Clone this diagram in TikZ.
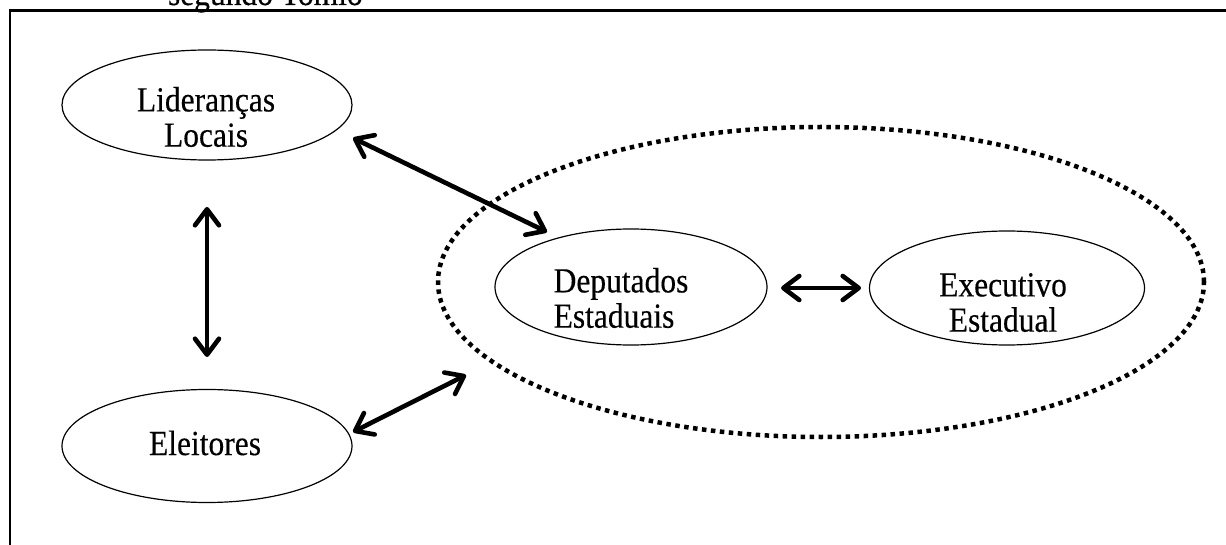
\documentclass[tikz,border=0pt]{standalone}
\usepackage{fontspec}
\setmainfont{Liberation Serif}
\newfontfamily\lblfont[FakeBold=0.3]{Liberation Serif}
\usetikzlibrary{arrows.meta,shapes.geometric}
\newcommand\lbltext[1]{\scalebox{1}[1.12]{\lblfont\fontsize{31.5}{31.5}\selectfont\begin{tabular}{@{}c@{}}#1\end{tabular}}}
\begin{document}
\begin{tikzpicture}[x=1pt,y=-1pt,
  oval/.style={draw, ellipse, line width=1.2pt, inner sep=0pt},
  group/.style={draw, ellipse, line width=4.5pt, dash pattern=on 4.5pt off 4.5pt, inner sep=0pt},
  txt/.style={inner sep=0pt, outer sep=0pt},
  arr/.style={line width=4.6pt, {Straight Barb[length=16pt,width=24pt,round]}-{Straight Barb[length=16pt,width=24pt,round]}}]
\useasboundingbox (0,0) rectangle (1226,545);
% frame
\draw[line width=2.6pt] (10,560) -- (10,10.5) -- (1240,10.5);
\node[txt, anchor=base west] (hdr) at (168,5) {\scalebox{1}[1.12]{\lblfont\fontsize{31.5}{31.5}\selectfont segundo Tomio}};
% ellipses
\node[oval, minimum width=290pt, minimum height=110pt] (lid) at (207,105) {};
\node[oval, minimum width=290pt, minimum height=113pt] (ele) at (207,446) {};
\node[group, minimum width=766pt, minimum height=310pt] (grp) at (821,282) {};
\node[oval, minimum width=272pt, minimum height=116pt] (dep) at (631,287) {};
\node[oval, minimum width=275pt, minimum height=114pt] (exe) at (1007,288) {};
% texts
\node[txt] (lidtxt) at (206,122) {\lbltext{Lideranças\\Locais}};
\node[txt] (eletxt) at (205,448) {\lbltext{Eleitores}};
\node[txt] (deptxt) at (621,303) {\lbltext{Deputados\\Estaduais\hspace*{14pt}}};
\node[txt] (exetxt) at (1003,307) {\lbltext{Executivo\\Estadual}};
% arrow ends
\coordinate (a1) at ([shift={(146,33)}]lid.center);
\coordinate (a2) at ([shift={(-84,-55)}]dep.center);
\coordinate (b1) at ([shift={(0,102)}]lid.center);
\coordinate (b2) at ([shift={(0,-89)}]ele.center);
\coordinate (c1) at ([shift={(146,-14)}]ele.center);
\coordinate (c2) at ([shift={(-355,93)}]grp.center);
\coordinate (d1) at ([shift={(150,1)}]dep.center);
\coordinate (d2) at ([shift={(-146,0)}]exe.center);
\draw[arr] (a1) -- (a2);
\draw[arr] (b1) -- (b2);
\draw[arr] (c1) -- (c2);
\draw[arr] (d1) -- (d2);
\end{tikzpicture}
\end{document}
